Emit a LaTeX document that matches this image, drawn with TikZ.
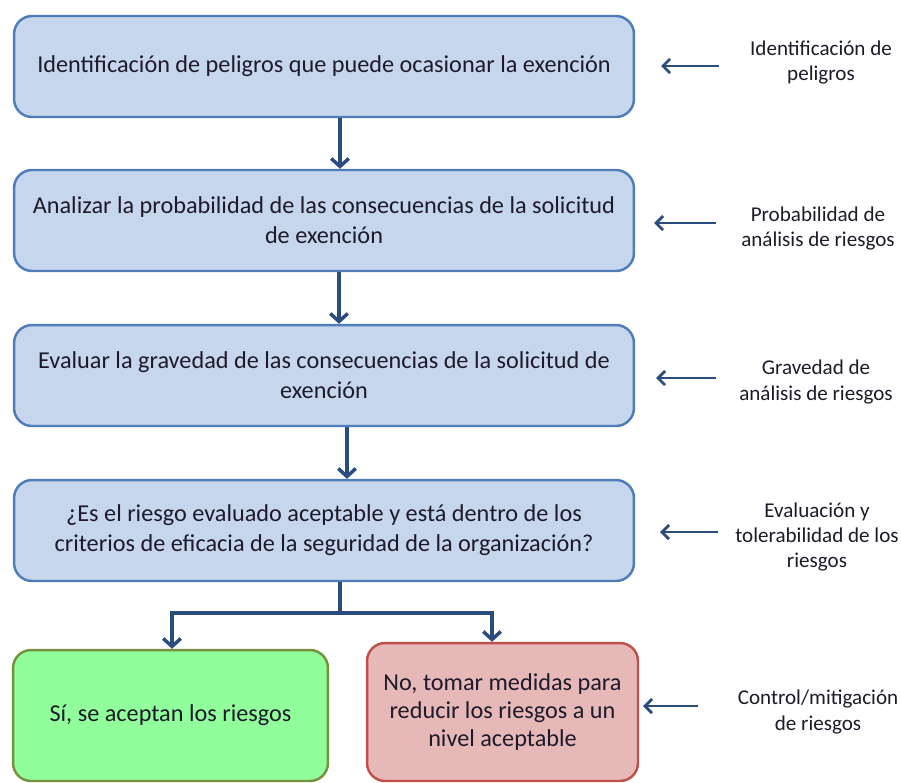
\documentclass[tikz,border=0pt]{standalone}
\usepackage{fontspec}
\setmainfont{Carlito}
\usetikzlibrary{arrows.meta}

\definecolor{boxblue}{HTML}{C6D6EC}
\definecolor{edgeblue}{HTML}{4F7DBA}
\definecolor{arrowblue}{HTML}{2B4C7E}
\definecolor{boxgreen}{HTML}{90FE9B}
\definecolor{edgegreen}{HTML}{76913F}
\definecolor{boxred}{HTML}{E6B8B8}
\definecolor{edgered}{HTML}{C0504D}
\definecolor{inktext}{HTML}{1E1A2A}

\begin{document}
\begin{tikzpicture}[x=0.02cm,y=-0.02cm,
  stage/.style={draw=edgeblue,fill=boxblue,line width=1.4pt,rounded corners=0.36cm,
    minimum width=12.4cm,minimum height=2.02cm,align=center,text=inktext,
    font=\fontsize{13.8}{17}\selectfont},
  yesbox/.style={stage,draw=edgegreen,fill=boxgreen,minimum width=6.3cm,minimum height=2.62cm},
  nobox/.style={stage,draw=edgered,fill=boxred,minimum width=5.42cm,minimum height=2.76cm,
    font=\fontsize{13.8}{16}\selectfont},
  note/.style={align=center,text=inktext,font=\fontsize{12}{14.3}\selectfont},
  flow/.style={draw=arrowblue,line width=2pt,-{Straight Barb[length=4.5pt,width=10pt]}},
  side/.style={draw=arrowblue,line width=1.6pt,-{Straight Barb[length=4pt,width=8pt]}}]
  \useasboundingbox (0,0) rectangle (901,782);
  % Main column of the flow
  \node[stage]  (b1) at (324,66.5)  {Identificación de peligros que puede ocasionar la exención};
  \node[stage]  (b2) at (324,220.5) {Analizar la probabilidad de las consecuencias de la solicitud\\de exención};
  \node[stage]  (b3) at (324,375.5) {Evaluar la gravedad de las consecuencias de la solicitud de\\exención};
  \node[stage]  (b4) at (324,530.5) {¿Es el riesgo evaluado aceptable y está dentro de los\\criterios de eficacia de la seguridad de la organización?};
  \node[yesbox] (si) at (170.5,715.5) {Sí, se aceptan los riesgos};
  \node[nobox]  (no) at (502.5,712)   {No, tomar medidas para\\reducir los riesgos a un\\nivel aceptable};
  % Right-hand side notes
  \node[note] (n1) at (821,62.5) {Identificación de\\peligros};
  \node[note] (n2) at (818,228.5) {Probabilidad de\\análisis de riesgos};
  \node[note] (n3) at (816,382) {Gravedad de\\análisis de riesgos};
  \node[note] (n4) at (817,537) {Evaluación y\\tolerabilidad de los\\riesgos};
  \node[note] (n5) at (818,712) {Control/mitigación\\de riesgos};
  % stems and fork
  \coordinate (c1)   at (340,0);
  \coordinate (c2)   at (339,0);
  \coordinate (c3)   at (347,0);
  \coordinate (fork) at (340,613);
  \coordinate (fl)   at (172,613);
  \coordinate (fr)   at (492,613);
  \draw[flow] (b1.south -| c1) -- (b2.north -| c1);
  \draw[flow] (b2.south -| c2) -- (b3.north -| c2);
  \draw[flow] (b3.south -| c3) -- (b4.north -| c3);
  \draw[draw=arrowblue,line width=2pt] (b4.south -| fork) -- (fork);
  \draw[flow] (fork) -- (fl) -- (si.north -| fl);
  \draw[flow] (fork) -- (fr) -- (no.north -| fr);
  % side arrows
  \coordinate (s1) at (719,66);  \coordinate (t1) at (661,66);
  \coordinate (s2) at (716,223); \coordinate (t2) at (654,223);
  \coordinate (s3) at (716,378); \coordinate (t3) at (656,378);
  \coordinate (s4) at (718,532); \coordinate (t4) at (660,532);
  \coordinate (s5) at (698,706); \coordinate (t5) at (643,706);
  \draw[side] (s1) -- (t1);
  \draw[side] (s2) -- (t2);
  \draw[side] (s3) -- (t3);
  \draw[side] (s4) -- (t4);
  \draw[side] (s5) -- (t5);
\end{tikzpicture}
\end{document}
